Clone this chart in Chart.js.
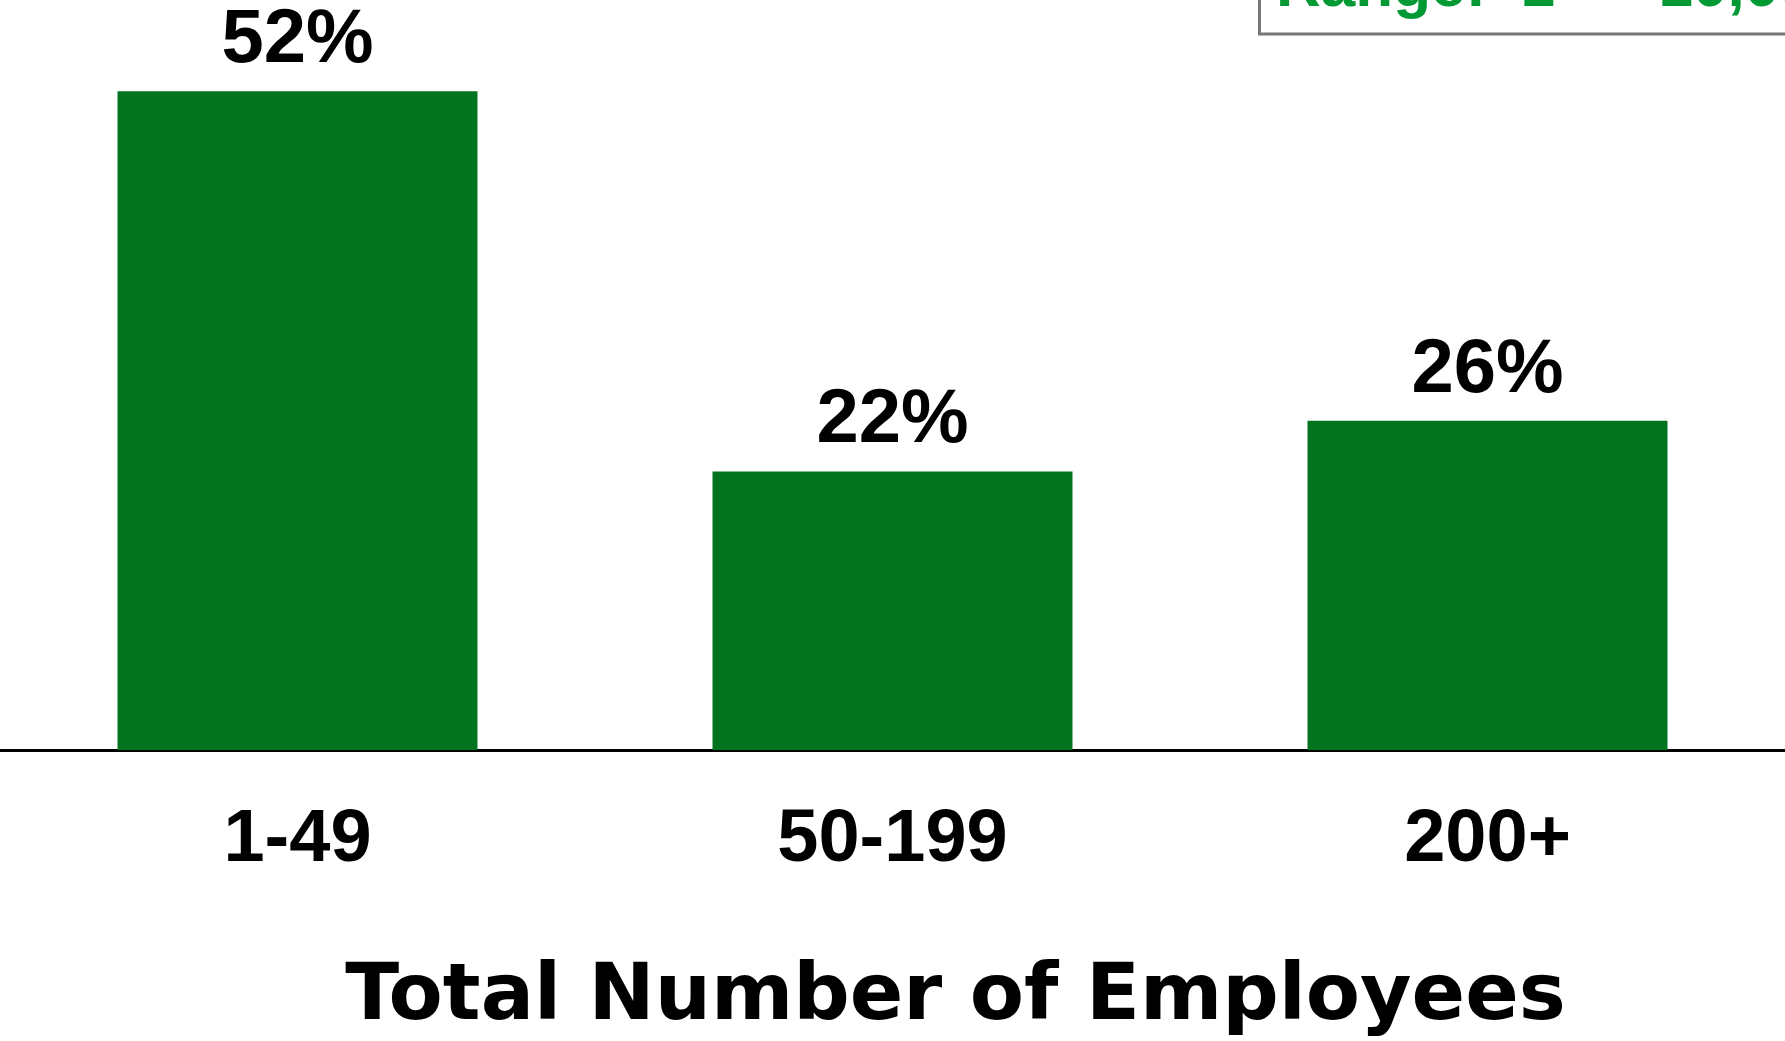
<!DOCTYPE html>
<html>
<head>
<meta charset="utf-8">
<script src="https://cdn.jsdelivr.net/npm/chart.js@4"></script>
<style>
    html, body { margin: 0; padding: 0; background: #ffffff; }
    #wrap { width: 1785px; height: 1041px; position: relative; }
</style>
</head>
<body>
<div id="wrap"><canvas id="sizeChart"></canvas></div>
<script>
    // Company size buckets and share of respondents
    var categories = ["1-49", "50-199", "200+"];
    var shares = [52, 22, 26];
    var shareLabels = ["52%", "22%", "26%"];
    var axisTitle = "Total Number of Employees";
    var rangeNote = "Range:  1  \u2013  10,000";

    // Percent labels above each bar
    var barLabels = {
        id: "barLabels",
        afterDatasetsDraw: function (chart) {
            var ctx = chart.ctx;
            var meta = chart.getDatasetMeta(0);
            ctx.save();
            ctx.font = "bold 76px 'Liberation Sans'";
            ctx.fillStyle = "#000000";
            ctx.textAlign = "center";
            ctx.textBaseline = "alphabetic";
            meta.data.forEach(function (bar, i) {
                ctx.fillText(shareLabels[i], bar.x, bar.y - 29);
            });
            ctx.restore();
        }
    };

    // Axis title (sits a little right of centre) and the range box in the corner
    var extras = {
        id: "extras",
        afterDraw: function (chart) {
            var ctx = chart.ctx;
            var area = chart.chartArea;
            ctx.save();
            ctx.font = "bold 79px 'DejaVu Sans'";
            ctx.fillStyle = "#000000";
            ctx.textAlign = "center";
            ctx.textBaseline = "alphabetic";
            ctx.fillText(axisTitle, (area.left + area.right) / 2 + 63, 1019);

            ctx.strokeStyle = "#777777";
            ctx.lineWidth = 3;
            ctx.strokeRect(1259.5, -20, 700, 54);
            ctx.font = "bold 62px 'Liberation Sans'";
            ctx.fillStyle = "#009933";
            ctx.textAlign = "left";
            ctx.fillText(rangeNote, 1276, 6);
            ctx.restore();
        }
    };

    var ctx = document.getElementById("sizeChart").getContext("2d");
    var chart = new Chart(ctx, {
        type: "bar",
        data: {
            labels: categories,
            datasets: [
                {
                    data: shares,
                    backgroundColor: "#03731f",
                    borderWidth: 0,
                    barPercentage: 0.605,
                    categoryPercentage: 1.0
                }
            ]
        },
        options: {
            responsive: true,
            maintainAspectRatio: false,
            animation: false,
            layout: { padding: { top: 0, left: 0, right: 0, bottom: 118 } },
            plugins: {
                legend: { display: false },
                tooltip: { enabled: false }
            },
            scales: {
                x: {
                    grid: { display: false },
                    border: { display: true, color: "#000000", width: 3 },
                    ticks: {
                        color: "#000000",
                        padding: 38,
                        font: { family: "'Liberation Sans'", size: 74, weight: "bold" }
                    }
                },
                y: {
                    display: false,
                    min: 0,
                    max: 59.2
                }
            }
        },
        plugins: [barLabels, extras]
    });
</script>
</body>
</html>
